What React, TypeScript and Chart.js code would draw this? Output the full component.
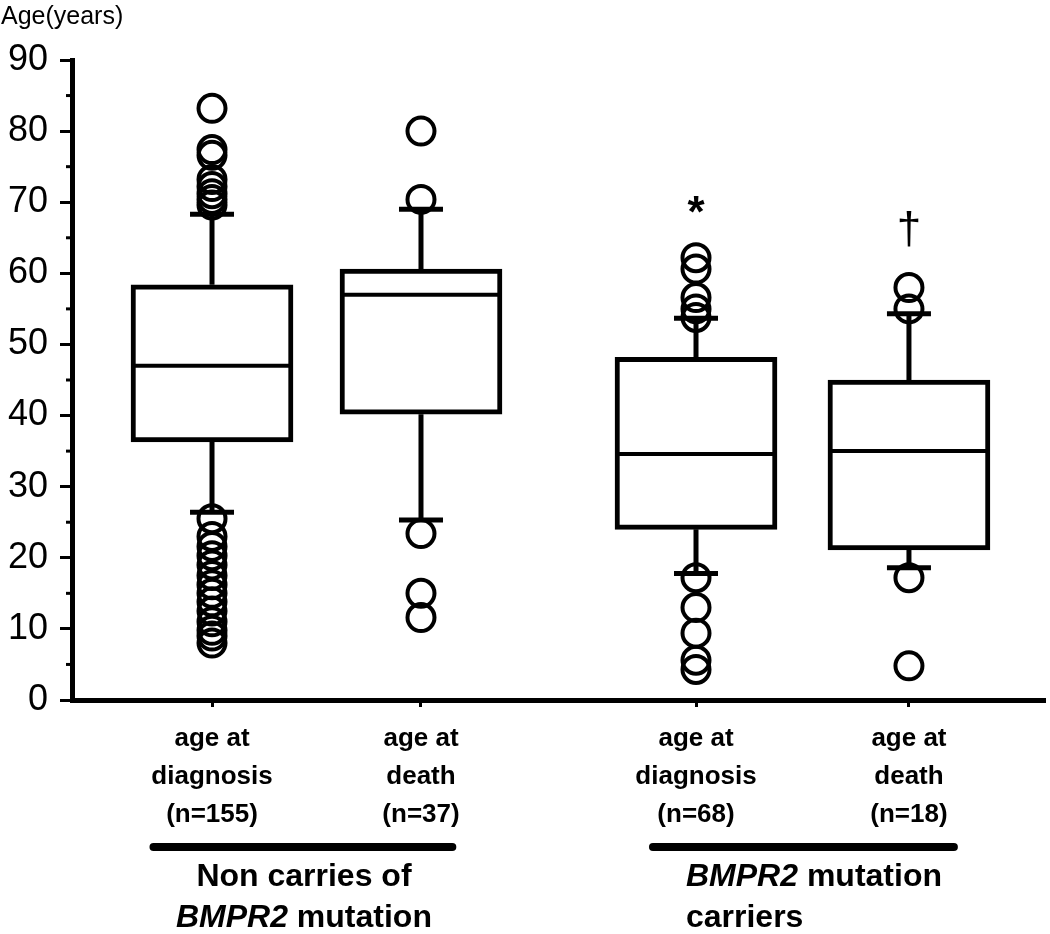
import React, { useEffect, useRef } from 'react';
import { Chart, registerables } from 'chart.js';

Chart.register(...registerables);

const FONT = '"Liberation Sans", Arial, Helvetica, sans-serif';

// ---- data ----
const categoryLabels: string[][] = [
  ['age at', 'diagnosis', '(n=155)'],
  ['age at', 'death', '(n=37)'],
  ['age at', 'diagnosis', '(n=68)'],
  ['age at', 'death', '(n=18)'],
];
const xPositions = [1, 2, 3.316, 4.335];
const q1Values = [36.3, 40.2, 24.0, 21.1];
const medianValues = [47.0, 57.0, 34.6, 35.0];
const q3Values = [58.4, 60.6, 48.2, 45.0];
const whiskerLow = [26.4, 25.3, 17.8, 18.6];
const whiskerHigh = [68.3, 69.0, 53.7, 54.3];
const outliersNonDiagnosis = [83.2, 77.4, 76.6, 73.2, 72.2, 71.2, 70.4, 69.6, 25.5, 23.0, 21.6, 20.3, 19.0, 17.5, 16.2, 15.0, 13.8, 12.5, 11.0, 9.8, 9.0, 8.0];
const outliersNonDeath = [80.0, 70.4, 23.4, 15.0, 11.6];
const outliersCarrierDiagnosis = [62.2, 60.6, 56.6, 55.0, 53.8, 17.2, 13.0, 9.4, 5.6, 4.3];
const outliersCarrierDeath = [58.0, 55.0, 17.2, 4.8];
const outlierGroups = [outliersNonDiagnosis, outliersNonDeath, outliersCarrierDiagnosis, outliersCarrierDeath];
const significanceMarks = ['', '', '*', '†'];
const significanceValues = [0, 0, 69.6, 66.0];
const yTicks = [0, 10, 20, 30, 40, 50, 60, 70, 80, 90];
const yMinorTicks = [5, 15, 25, 35, 45, 55, 65, 75, 85];

const annotationPlugin = {
  id: 'annotations',
  afterDraw(chart: any) {
    const { ctx, scales } = chart;
    const xs = scales.x;
    const ys = scales.y;
    ctx.save();
    // minor y ticks
    ctx.strokeStyle = '#000';
    ctx.lineWidth = 3;
    const left = chart.chartArea.left;
    yMinorTicks.forEach((v) => {
      const py = ys.getPixelForValue(v);
      ctx.beginPath();
      ctx.moveTo(left - 6, py);
      ctx.lineTo(left, py);
      ctx.stroke();
    });
    // y title
    ctx.fillStyle = '#000';
    ctx.font = `25px ${FONT}`;
    ctx.textAlign = 'left';
    ctx.textBaseline = 'middle';
    ctx.fillText('Age(years)', 1, 17);
    // significance marks
    significanceMarks.forEach((m, i) => {
      if (!m) return;
      const px = xs.getPixelForValue(xPositions[i]);
      const py = ys.getPixelForValue(significanceValues[i]);
      ctx.textAlign = 'center';
      ctx.textBaseline = 'middle';
      if (m === '*') {
        ctx.font = `bold 44px ${FONT}`;
        ctx.fillText(m, px, py + 10);
      } else {
        ctx.font = `44px ${FONT}`;
        ctx.fillText(m, px, py);
      }
    });
    // group underline bars
    ctx.lineCap = 'round';
    ctx.lineWidth = 8;
    const bars = [[0.72, 2.15], [3.11, 4.55]];
    const barY = 847;
    bars.forEach(([a, b]) => {
      ctx.beginPath();
      ctx.moveTo(xs.getPixelForValue(a), barY);
      ctx.lineTo(xs.getPixelForValue(b), barY);
      ctx.stroke();
    });
    // group labels
    const fontUp = `bold 32px ${FONT}`;
    const fontIt = `italic bold 32px ${FONT}`;
    const drawMixed = (parts: [string, string][], x: number, y: number, align: 'center' | 'left') => {
      let total = 0;
      parts.forEach(([t, f]) => { ctx.font = f; total += ctx.measureText(t).width; });
      let cx = align === 'center' ? x - total / 2 : x;
      ctx.textAlign = 'left';
      ctx.textBaseline = 'middle';
      parts.forEach(([t, f]) => { ctx.font = f; ctx.fillText(t, cx, y); cx += ctx.measureText(t).width; });
    };
    const g1 = xs.getPixelForValue(1.44);
    drawMixed([['Non carries of', fontUp]], g1, 877, 'center');
    drawMixed([['BMPR2', fontIt], [' mutation', fontUp]], g1, 918, 'center');
    const g2 = xs.getPixelForValue(3.268);
    drawMixed([['BMPR2', fontIt], [' mutation', fontUp]], g2, 877, 'left');
    drawMixed([['carriers', fontUp]], g2, 918, 'left');
    ctx.restore();
  },
};

export default function App() {
  const ref = useRef<HTMLCanvasElement>(null);
  useEffect(() => {
    document.body.style.margin = '0';
    const canvas = ref.current;
    if (!canvas) return;
    const whiskerData: any[] = [];
    xPositions.forEach((x, i) => {
      whiskerData.push({ x, y: whiskerLow[i] }, { x, y: q1Values[i] }, { x, y: null });
      whiskerData.push({ x, y: q3Values[i] }, { x, y: whiskerHigh[i] }, { x, y: null });
    });
    const capData: any[] = [];
    xPositions.forEach((x, i) => {
      capData.push({ x, y: whiskerLow[i] }, { x, y: whiskerHigh[i] });
    });
    const outlierData: any[] = [];
    outlierGroups.forEach((g, i) => g.forEach((y) => outlierData.push({ x: xPositions[i], y })));

    const chart = new Chart(canvas, {
      type: 'scatter',
      data: {
        datasets: [
          {
            type: 'scatter',
            label: 'outliers',
            data: outlierData,
            pointStyle: 'circle',
            pointRadius: 13.5,
            pointBorderWidth: 4,
            pointBackgroundColor: 'rgba(0,0,0,0)',
            pointBorderColor: '#000',
            order: 0,
          } as any,
          {
            type: 'scatter',
            label: 'median',
            data: xPositions.map((x, i) => ({ x, y: medianValues[i] })),
            pointStyle: 'line',
            pointRadius: 79,
            pointBorderWidth: 4,
            pointBorderColor: '#000',
            order: 1,
          } as any,
          {
            type: 'scatter',
            label: 'caps',
            data: capData,
            pointStyle: 'line',
            pointRadius: 22,
            pointBorderWidth: 5,
            pointBorderColor: '#000',
            order: 2,
          } as any,
          {
            type: 'bar',
            label: 'boxes',
            data: xPositions.map((x, i) => ({ x, y: [q1Values[i], q3Values[i]] })),
            backgroundColor: '#fff',
            borderColor: '#000',
            borderWidth: 5,
            borderSkipped: false,
            barThickness: 162,
            order: 3,
          } as any,
          {
            type: 'line',
            label: 'whiskers',
            data: whiskerData,
            borderColor: '#000',
            borderWidth: 5,
            pointRadius: 0,
            spanGaps: false,
            order: 4,
          } as any,
        ],
      },
      options: {
        animation: false,
        responsive: false,
        maintainAspectRatio: false,
        events: [],
        layout: { autoPadding: false, padding: { top: 60, left: 0, right: 5, bottom: 0 } },
        plugins: { legend: { display: false }, tooltip: { enabled: false }, title: { display: false } },
        scales: {
          x: {
            type: 'linear',
            min: 0.33,
            max: 4.986,
            offset: false,
            afterBuildTicks: (scale: any) => {
              scale.ticks = xPositions.map((v) => ({ value: v }));
            },
            afterFit: (scale: any) => {
              scale.height = 234;
              scale.paddingLeft = 0;
              scale.paddingRight = 0;
            },
            grid: { display: true, offset: false, drawOnChartArea: false, drawTicks: true, tickLength: 7, tickWidth: 3, tickColor: '#000', color: '#000' },
            border: { display: true, color: '#000', width: 5 },
            ticks: {
              autoSkip: false,
              maxRotation: 0,
              padding: 13,
              color: '#000',
              font: { family: FONT, size: 26, weight: 'bold', lineHeight: 1.46 },
              callback: (_v: any, i: number) => categoryLabels[i],
            },
          },
          y: {
            type: 'linear',
            min: 0,
            max: 90,
            afterBuildTicks: (scale: any) => {
              scale.ticks = yTicks.map((v) => ({ value: v }));
            },
            afterFit: (scale: any) => {
              scale.width = 72;
              scale.paddingTop = 0;
              scale.paddingBottom = 0;
            },
            grid: { display: true, drawOnChartArea: false, drawTicks: true, tickLength: 12, tickWidth: 3, tickColor: '#000', color: '#000' },
            border: { display: true, color: '#000', width: 5 },
            ticks: {
              padding: 12,
              color: '#000',
              font: { family: FONT, size: 36 },
              callback: (v: any) => String(v),
            },
          },
        },
      },
      plugins: [annotationPlugin],
    } as any);
    return () => chart.destroy();
  }, []);
  return (
    <div style={{ position: 'absolute', left: 0, top: 0, width: 1050, height: 934, background: '#fff' }}>
      <canvas ref={ref} width={1050} height={934} style={{ display: 'block', width: 1050, height: 934 }} />
    </div>
  );
}
